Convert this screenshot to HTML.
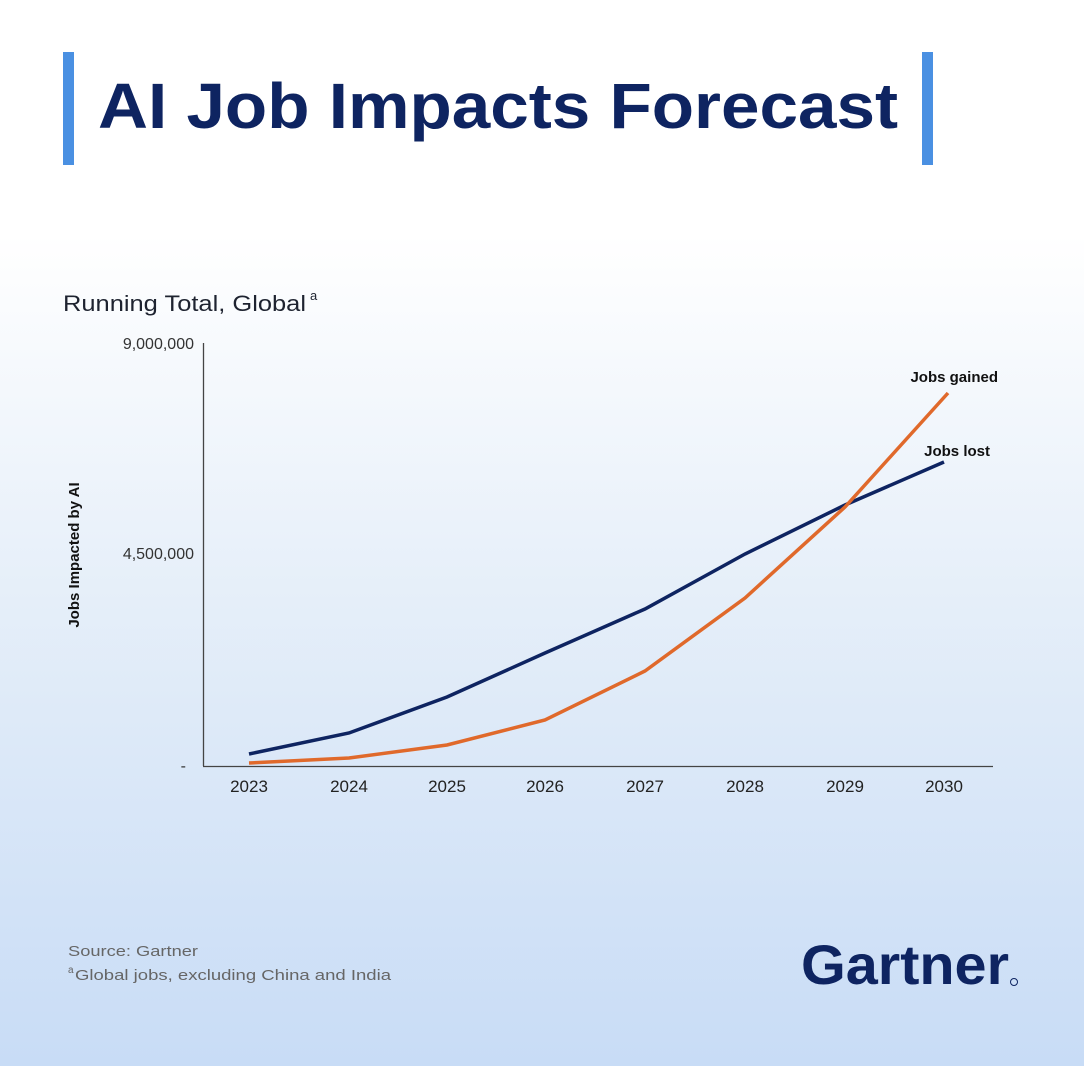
<!DOCTYPE html>
<html><head><style>
html,body{margin:0;padding:0}
body{width:1084px;height:1066px;overflow:hidden;background:linear-gradient(to bottom,#ffffff 0%,#ffffff 22%,#e6eff9 55%,#c8dcf6 100%)}
svg{display:block;font-family:"Liberation Sans",sans-serif}
</style></head><body>
<svg width="1084" height="1066" viewBox="0 0 1084 1066">
<rect x="63" y="52" width="11" height="113" fill="#4a90e2"/>
<rect x="922" y="52" width="11" height="113" fill="#4a90e2"/>
<text x="98" y="128" font-size="64" font-weight="bold" fill="#0e2461" textLength="800" lengthAdjust="spacingAndGlyphs">AI Job Impacts Forecast</text>
<text x="63" y="311" font-size="22" fill="#1e2330" textLength="243" lengthAdjust="spacingAndGlyphs">Running Total, Global</text>
<text x="310" y="300" font-size="13" fill="#1e2330">a</text>
<text x="194" y="349" font-size="16" fill="#333" text-anchor="end">9,000,000</text>
<text x="194" y="559" font-size="16" fill="#333" text-anchor="end">4,500,000</text>
<text x="186" y="771" font-size="16" fill="#333" text-anchor="end">-</text>
<text transform="translate(79,555) rotate(-90)" font-size="15" font-weight="bold" fill="#111" text-anchor="middle">Jobs Impacted by AI</text>
<line x1="203.5" y1="343" x2="203.5" y2="766" stroke="#444" stroke-width="1.3"/>
<line x1="203" y1="766.5" x2="993" y2="766.5" stroke="#444" stroke-width="1.3"/>
<g font-size="17" fill="#222" text-anchor="middle">
<text x="249" y="792">2023</text><text x="349" y="792">2024</text><text x="447" y="792">2025</text><text x="545" y="792">2026</text><text x="645" y="792">2027</text><text x="745" y="792">2028</text><text x="845" y="792">2029</text><text x="944" y="792">2030</text>
</g>
<polyline points="249,754 349,733 447,697 545,653 645,609 745,554 845,505 944,462" fill="none" stroke="#0e2461" stroke-width="3.5"/>
<polyline points="249,763 349,758 447,745 545,720 645,671 745,598 845,507 948,393" fill="none" stroke="#e0692b" stroke-width="3.5"/>
<text x="998" y="382" font-size="15" font-weight="bold" fill="#111" text-anchor="end">Jobs gained</text>
<text x="990" y="456" font-size="15" font-weight="bold" fill="#111" text-anchor="end">Jobs lost</text>
<text x="68" y="956" font-size="15" fill="#666" textLength="130" lengthAdjust="spacingAndGlyphs">Source: Gartner</text>
<text x="68" y="973" font-size="10" fill="#666">a</text>
<text x="75" y="980" font-size="15" fill="#666" textLength="316" lengthAdjust="spacingAndGlyphs">Global jobs, excluding China and India</text>
<text x="801" y="984" font-size="56" font-weight="bold" fill="#0e2461" textLength="208" lengthAdjust="spacingAndGlyphs">Gartner</text>
<circle cx="1014" cy="982" r="3.5" fill="none" stroke="#0e2461" stroke-width="1"/>
</svg>
</body></html>
